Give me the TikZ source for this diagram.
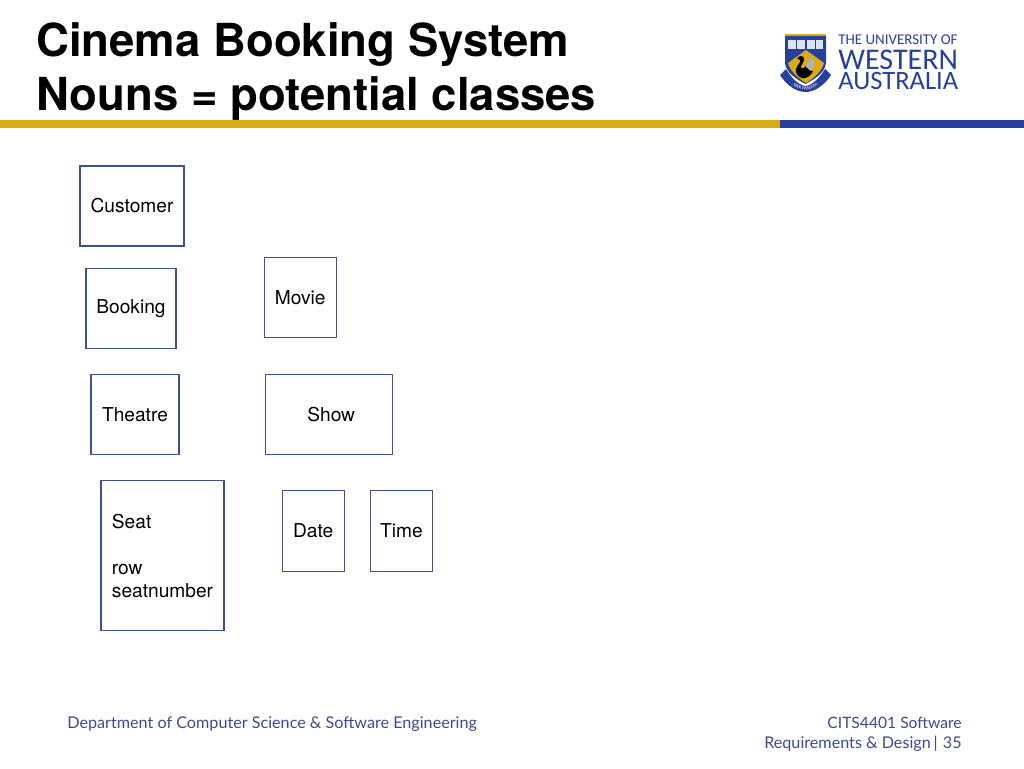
\documentclass[tikz,border=0pt]{standalone}
\usepackage{fontspec}
\setmainfont{TeX Gyre Heros}
\newfontfamily\footfont{Lato}
\newfontfamily\logofont{Carlito}
\usepackage{tikz}
\usetikzlibrary{positioning, decorations.text}

\definecolor{uwagold}{HTML}{D9AB16}
\definecolor{uwablue}{HTML}{27409B}
\definecolor{boxline}{HTML}{3F4F8F}
\definecolor{foottext}{HTML}{3D4B8C}

\tikzset{
    classbox/.style={draw=boxline, line width=0.7pt, minimum height=1.6cm, inner sep=0pt, font=\fontsize{10.9}{13.1}\selectfont},
    titletext/.style={anchor=base west, inner sep=0pt, font=\fontsize{25.9}{30}\bfseries\selectfont},
    foot/.style={inner sep=0pt, text=foottext, font=\footfont\fontsize{9.2}{11.4}\selectfont},
    logotext/.style={anchor=base west, inner sep=0pt, text=uwablue, text height=0.62em, text depth=0pt}
}

\begin{document}
\begin{tikzpicture}[x=0.02cm, y=-0.02cm]
    \useasboundingbox (0,0) rectangle (1024,768);

    % header
    \node[titletext] (title1) at (36,56) {Cinema Booking System};
    \node[titletext] (title2) at (36,110) {Nouns = potential classes};
    \fill[uwagold] (0,120) rectangle (780,127.5);
    \fill[uwablue] (780,120) rectangle (1024,127.5);

    % logo
    \fill[uwablue] (785,35) -- (826,35) -- (826,62) .. controls (826,72) and (815,79) .. (805.5,84) .. controls (796,79) and (785,72) .. (785,62) -- cycle;
    \fill[uwagold] (785,34) rectangle (826,36);
    \fill[uwagold] (788,63) -- (806,50) -- (824,63) .. controls (822,71) and (814,78) .. (806,83) .. controls (798,78) and (790,71) .. (788,63) -- cycle;
    \fill[white!85!uwablue] (788,40) rectangle (805,49);
    \fill[white!85!uwablue] (807,40) rectangle (823,49);
    \draw[uwablue, line width=0.4pt] (796.5,40) -- (796.5,49) (815,40) -- (815,49);
    \fill[black] (797,58.5) .. controls (799,55) and (805,55) .. (804,60) .. controls (803,64) and (800,66) .. (801,68) .. controls (803,69) and (805,67) .. (806,66) -- (810,70) -- (813,71) .. controls (811,76) and (806,79) .. (802,78) .. controls (798,77) and (795,73) .. (796,69) .. controls (797,65) and (801,63) .. (800,60) .. controls (799,59) and (798,59) .. (797,58.5) -- cycle;
    \fill[white!70!black] (806,67) .. controls (807,62) and (810,58) .. (813,57) .. controls (815,62) and (814,68) .. (811,71) -- cycle;
    \fill[uwablue] (780,75) -- (786,69) .. controls (792,79) and (799,85) .. (805.5,86) .. controls (812,85) and (819,79) .. (825,69) -- (831,75) .. controls (824,86) and (814,92) .. (805.5,92) .. controls (797,92) and (787,86) .. (780,75) -- cycle;
    \path[decorate, decoration={text along path, text align=center, text={|\logofont\fontsize{2.6}{3}\selectfont\color{white}|SEEK WISDOM}}] (788,81) .. controls (795,88) and (800,90) .. (805.5,90) .. controls (811,90) and (816,88) .. (823,81);

    \node[logotext, font=\logofont\fontsize{8.5}{10}\selectfont] (logo1) at (838,44.5) {THE UNIVERSITY OF};
    \node[logotext, font=\logofont\fontsize{17.1}{18}\selectfont] (logo2) at (838,69) {WESTERN};
    \node[logotext, font=\logofont\fontsize{15.1}{18}\selectfont] (logo3) at (838,89.5) {AUSTRALIA};

    % classes
    \node[classbox, minimum width=2.08cm] (customer) at (132,206) {Customer};
    \node[classbox, minimum width=1.8cm, below=0.42cm of customer, xshift=-0.02cm] (booking) {Booking};
    \node[classbox, minimum width=1.44cm, right=1.74cm of booking, yshift=0.22cm] (movie) {Movie};
    \node[classbox, minimum width=1.76cm, below=0.5cm of booking, xshift=0.08cm] (theatre) {Theatre};
    \node[classbox, minimum width=2.54cm, right=1.7cm of theatre] (show) {\hspace*{0.1cm}Show};
    \node[classbox, minimum width=2.46cm, minimum height=3cm, below=0.5cm of theatre, xshift=0.55cm, align=left] (seat) {Seat\\[13.1pt]row\\seatnumber};
    \node[classbox, minimum width=1.24cm, minimum height=1.62cm, right=1.14cm of seat, yshift=0.49cm] (date) {Date};
    \node[classbox, minimum width=1.24cm, minimum height=1.62cm, right=0.5cm of date] (time) {Time};

    % footer
    \node[foot, anchor=base west] (dept) at (67,728) {Department of Computer Science \& Software Engineering};
    \node[foot, anchor=base east, font=\footfont\fontsize{8.9}{11}\selectfont] (unit1) at (962,728) {CITS4401 Software};
    \node[foot, anchor=base east] (unit2) at (962,748) {Requirements \& Design\,|\,\,35};
\end{tikzpicture}
\end{document}
